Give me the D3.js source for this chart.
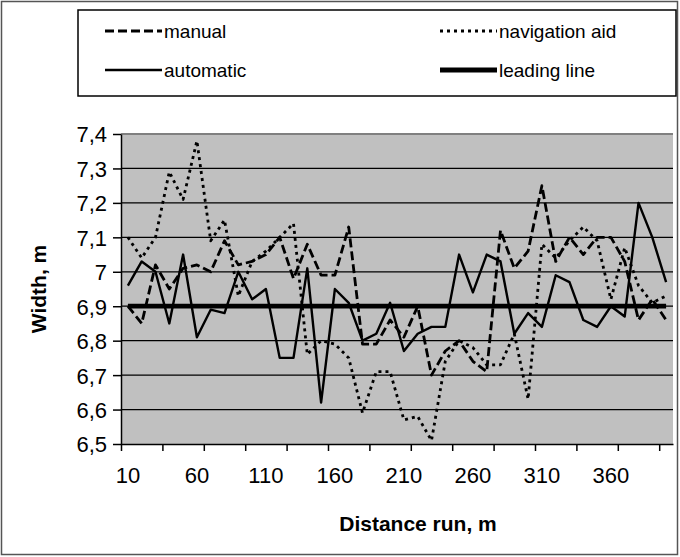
<!DOCTYPE html>
<html lang="en">
<head>
    <title>Width vs distance run</title>
    <script src="https://d3js.org/d3.v7.min.js" charset="utf-8"></script>
    <style type="text/css">
        body
        {
            margin: 0;
            background-color: white;
        }
        svg
        {
            display: block;
            font-family: "Liberation Sans", Arial, sans-serif;
        }
    </style>
</head>
<body>
    <div id="chart_div"></div>
    <script>
    "use strict";

    var categories = [10, 20, 30, 40, 50, 60, 70, 80, 90, 100,
        110, 120, 130, 140, 150, 160, 170, 180, 190, 200,
        210, 220, 230, 240, 250, 260, 270, 280, 290, 300,
        310, 320, 330, 340, 350, 360, 370, 380, 390, 400];
    var manual = [6.90, 6.85, 7.02, 6.95, 7.01, 7.02, 7.00, 7.09, 7.02, 7.03,
        7.05, 7.10, 6.98, 7.08, 6.99, 6.99, 7.13, 6.79, 6.79, 6.86,
        6.81, 6.90, 6.70, 6.77, 6.80, 6.74, 6.71, 7.12, 7.01, 7.06,
        7.25, 7.03, 7.10, 7.05, 7.10, 7.10, 7.03, 6.86, 6.92, 6.86];
    var navigation_aid = [7.10, 7.04, 7.10, 7.29, 7.21, 7.38, 7.09, 7.15, 6.93, 7.03,
        7.06, 7.10, 7.14, 6.76, 6.80, 6.79, 6.75, 6.59, 6.71, 6.71,
        6.57, 6.58, 6.51, 6.74, 6.80, 6.78, 6.73, 6.73, 6.82, 6.63,
        7.08, 7.04, 7.09, 7.13, 7.09, 6.92, 7.07, 6.96, 6.91, 6.93];
    var automatic = [6.96, 7.03, 7.00, 6.85, 7.05, 6.81, 6.89, 6.88, 7.00, 6.92,
        6.95, 6.75, 6.75, 7.01, 6.62, 6.95, 6.91, 6.80, 6.82, 6.91,
        6.77, 6.82, 6.84, 6.84, 7.05, 6.94, 7.05, 7.03, 6.82, 6.88,
        6.84, 6.99, 6.97, 6.86, 6.84, 6.90, 6.87, 7.20, 7.10, 6.97];
    var leading_line = [6.9, 6.9, 6.9, 6.9, 6.9, 6.9, 6.9, 6.9, 6.9, 6.9,
        6.9, 6.9, 6.9, 6.9, 6.9, 6.9, 6.9, 6.9, 6.9, 6.9,
        6.9, 6.9, 6.9, 6.9, 6.9, 6.9, 6.9, 6.9, 6.9, 6.9,
        6.9, 6.9, 6.9, 6.9, 6.9, 6.9, 6.9, 6.9, 6.9, 6.9];
    var y_ticks = [6.5, 6.6, 6.7, 6.8, 6.9, 7.0, 7.1, 7.2, 7.3, 7.4];
    var x_labels = [10, 60, 110, 160, 210, 260, 310, 360];

    var series = [
        {name: "manual", values: manual, dash: "9,4", width: 2.8},
        {name: "navigation aid", values: navigation_aid, dash: "3,4", width: 2.8},
        {name: "automatic", values: automatic, dash: null, width: 2.4},
        {name: "leading line", values: leading_line, dash: null, width: 4.8}
    ];

    var svg_width = 680;
    var svg_height = 557;
    var plot = {left: 121, right: 673, top: 134, bottom: 444};

    var svg = d3.select("#chart_div")
        .append("svg")
        .attr("width", svg_width)
        .attr("height", svg_height);

    // outer frame
    svg.append("rect")
        .attr("x", 1.5).attr("y", 1.5)
        .attr("width", svg_width - 4).attr("height", svg_height - 4)
        .attr("fill", "white")
        .attr("stroke", "#555").attr("stroke-width", 1.5);

    var x = d3.scaleBand()
        .domain(categories)
        .range([plot.left, plot.right])
        .padding(0);
    var x_pos = function(d, i) { return x(categories[i]) + x.bandwidth() / 2; };
    var y = d3.scaleLinear()
        .domain([6.5, 7.4])
        .range([plot.bottom, plot.top]);
    var fmt = function(d) { return String(+d.toFixed(1)).replace(".", ","); };

    // plot background
    svg.append("rect")
        .attr("x", plot.left).attr("y", plot.top)
        .attr("width", plot.right - plot.left).attr("height", plot.bottom - plot.top)
        .attr("fill", "#c0c0c0");

    // gridlines
    svg.append("g")
        .selectAll("line")
        .data(y_ticks.slice(1, -1))
        .enter()
        .append("line")
        .attr("x1", plot.left).attr("x2", plot.right)
        .attr("y1", function(d) { return y(d); })
        .attr("y2", function(d) { return y(d); })
        .attr("stroke", "black")
        .attr("stroke-width", 1.3);

    // plot area top border
    svg.append("line")
        .attr("x1", plot.left).attr("x2", plot.right)
        .attr("y1", plot.top).attr("y2", plot.top)
        .attr("stroke", "#808080").attr("stroke-width", 2);

    // y axis
    var y_axis = d3.axisLeft(y)
        .tickValues(y_ticks)
        .tickFormat(fmt)
        .tickSize(8)
        .tickPadding(6)
        .tickSizeOuter(0);
    var gy = svg.append("g")
        .attr("transform", "translate(" + plot.left + ",0)")
        .call(y_axis);
    gy.selectAll("text").style("font-size", "22px").attr("fill", "black").attr("dy", "0.36em");
    gy.selectAll("line, path").attr("stroke", "black").attr("stroke-width", 1.5);

    // x axis tick marks, every third category
    var tick_scale = d3.scaleLinear()
        .domain([0, categories.length])
        .range([plot.left, plot.right]);
    var x_marks = d3.axisBottom(tick_scale)
        .tickValues(d3.range(0, categories.length, 3))
        .tickFormat("")
        .tickSize(7)
        .tickSizeOuter(0);
    var gx = svg.append("g")
        .attr("transform", "translate(0," + plot.bottom + ")")
        .call(x_marks);
    gx.selectAll("line, path").attr("stroke", "black").attr("stroke-width", 1.5);

    // x axis labels, every fifth category
    var x_axis = d3.axisBottom(x)
        .tickValues(x_labels)
        .tickSize(0)
        .tickPadding(39);
    var gxl = svg.append("g")
        .attr("transform", "translate(0," + plot.bottom + ")")
        .call(x_axis);
    gxl.select(".domain").remove();
    gxl.selectAll("text").style("font-size", "22px").attr("fill", "black").attr("dy", "0");

    // series lines
    var line = d3.line()
        .x(x_pos)
        .y(function(d) { return y(d); });
    svg.append("g")
        .selectAll("path")
        .data(series)
        .enter()
        .append("path")
        .attr("d", function(s) { return line(s.values); })
        .attr("fill", "none")
        .attr("stroke", "black")
        .attr("stroke-width", function(s) { return s.width; })
        .attr("stroke-dasharray", function(s) { return s.dash; })
        .attr("stroke-linejoin", "round");

    // axis titles
    svg.append("text")
        .text("Distance run, m")
        .attr("x", 418).attr("y", 531)
        .style("text-anchor", "middle")
        .style("font-size", "21px")
        .style("font-weight", "bold");
    svg.append("text")
        .text("Width, m")
        .attr("transform", "translate(46," + ((plot.top + plot.bottom) / 2) + ") rotate(-90)")
        .style("text-anchor", "middle")
        .style("font-size", "21px")
        .style("font-weight", "bold");

    // legend
    var legend = svg.append("g").attr("id", "legend");
    legend.append("rect")
        .attr("x", 78).attr("y", 10)
        .attr("width", 598).attr("height", 86)
        .attr("fill", "white")
        .attr("stroke", "black").attr("stroke-width", 1.5);
    var legend_pos = [
        {x: 105, y: 31},
        {x: 440, y: 31},
        {x: 105, y: 70},
        {x: 440, y: 70}
    ];
    var items = legend.selectAll("g.item")
        .data(series)
        .enter()
        .append("g")
        .attr("class", "item")
        .attr("transform", function(d, i) { return "translate(" + legend_pos[i].x + "," + legend_pos[i].y + ")"; });
    items.append("line")
        .attr("x1", 0).attr("x2", 57)
        .attr("y1", 0).attr("y2", 0)
        .attr("stroke", "black")
        .attr("stroke-width", function(s) { return s.width; })
        .attr("stroke-dasharray", function(s) { return s.dash; });
    items.append("text")
        .text(function(s) { return s.name; })
        .attr("x", 59).attr("y", 0)
        .attr("dy", "0.35em")
        .style("font-size", "19px");
    </script>
</body>
</html>
